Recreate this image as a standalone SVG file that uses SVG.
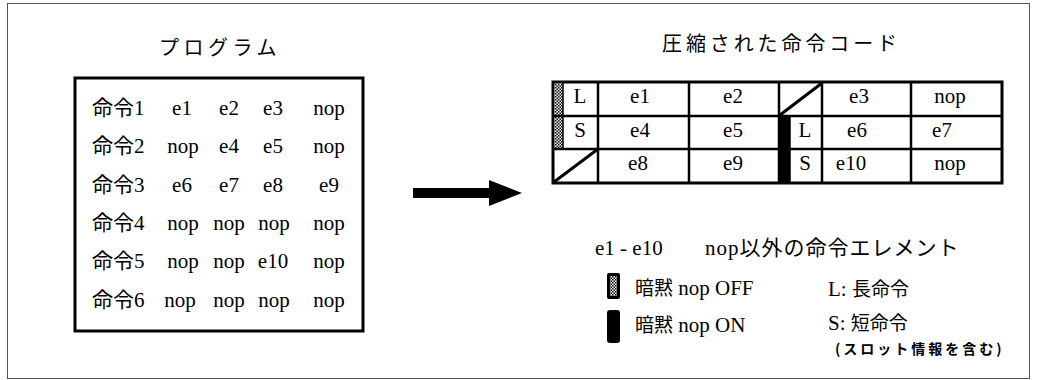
<svg xmlns="http://www.w3.org/2000/svg" width="1039" height="380" viewBox="0 0 1039 380">
<style>
.t{font-family:"Liberation Serif","Noto Sans CJK JP",serif;font-size:21px;fill:#000}
.j{font-family:"Noto Sans CJK JP",sans-serif;fill:#000}
.m{text-anchor:middle}
.ln{stroke:#000;stroke-width:2.5;fill:none}
</style>
<defs>
<pattern id="dots" width="3" height="3" patternUnits="userSpaceOnUse">
<rect width="3" height="3" fill="#fff"/>
<rect width="1.5" height="1.5" fill="#000"/>
<rect x="1.5" y="1.5" width="1.5" height="1.5" fill="#000"/>
</pattern>
</defs>
<rect width="1039" height="380" fill="#fff"/>
<rect x="7.5" y="3.5" width="1022" height="375" fill="none" stroke="#555" stroke-width="1"/>

<g id="program">
<text class="j" x="159" y="55" font-size="20" letter-spacing="4.5">プログラム</text>
<rect x="75" y="78" width="288" height="253" fill="none" stroke="#000" stroke-width="3"/>
<g class="t">
<text x="92" y="115">命令1</text>
<text x="182" y="115" class="m">e1</text><text x="229" y="115" class="m">e2</text><text x="273" y="115" class="m">e3</text><text x="329" y="115" class="m">nop</text>
<text x="92" y="153">命令2</text>
<text x="183" y="153" class="m">nop</text><text x="229" y="153" class="m">e4</text><text x="273" y="153" class="m">e5</text><text x="329" y="153" class="m">nop</text>
<text x="92" y="192">命令3</text>
<text x="182" y="192" class="m">e6</text><text x="229" y="192" class="m">e7</text><text x="273" y="192" class="m">e8</text><text x="329" y="192" class="m">e9</text>
<text x="92" y="230">命令4</text>
<text x="183" y="230" class="m">nop</text><text x="229" y="230" class="m">nop</text><text x="274" y="230" class="m">nop</text><text x="329" y="230" class="m">nop</text>
<text x="92" y="268">命令5</text>
<text x="183" y="268" class="m">nop</text><text x="229" y="268" class="m">nop</text><text x="273" y="268" class="m">e10</text><text x="329" y="268" class="m">nop</text>
<text x="92" y="307">命令6</text>
<text x="180" y="307" class="m">nop</text><text x="229" y="307" class="m">nop</text><text x="274" y="307" class="m">nop</text><text x="329" y="307" class="m">nop</text>
</g>
</g>

<g id="connectors">
<path d="M413 188 H489 V180 L522 193 L489 206 V198 H413 Z" fill="#000"/>
</g>

<g id="compressed">
<text class="j" x="662" y="51" font-size="20" letter-spacing="3.9">圧縮された命令コード</text>
<rect x="555" y="84" width="8" height="64" fill="url(#dots)"/>
<rect x="779" y="116" width="11" height="67" fill="#000"/>
<g class="ln">
<line x1="553" y1="116" x2="1002" y2="116"/>
<line x1="553" y1="149" x2="1002" y2="149"/>
<line x1="563" y1="82" x2="563" y2="149" stroke-width="1.5"/>
<line x1="598" y1="82" x2="598" y2="183"/>
<line x1="689" y1="82" x2="689" y2="183"/>
<line x1="779" y1="82" x2="779" y2="183"/>
<line x1="790" y1="116" x2="790" y2="183" stroke-width="1.5"/>
<line x1="822" y1="82" x2="822" y2="183"/>
<line x1="911" y1="82" x2="911" y2="183"/>
<line x1="780" y1="115" x2="822" y2="83" stroke-width="3"/>
<line x1="554" y1="182" x2="598" y2="149" stroke-width="3"/>
</g>
<rect x="553" y="82" width="449" height="101" fill="none" stroke="#000" stroke-width="3"/>
<g class="t">
<text x="580" y="103" class="m">L</text><text x="640" y="103" class="m">e1</text><text x="733" y="103" class="m">e2</text><text x="859" y="103" class="m">e3</text><text x="950" y="103" class="m">nop</text>
<text x="580" y="137" class="m">S</text><text x="640" y="137" class="m">e4</text><text x="733" y="137" class="m">e5</text><text x="805" y="137" class="m">L</text><text x="857" y="137" class="m">e6</text><text x="942" y="137" class="m">e7</text>
<text x="638" y="170" class="m">e8</text><text x="733" y="170" class="m">e9</text><text x="805" y="170" class="m">S</text><text x="851" y="170" class="m">e10</text><text x="950" y="170" class="m">nop</text>
</g>
</g>

<g id="legend-elements">
<text class="t" x="595" y="255" font-size="20">e1 - e10</text>
<text class="t" x="705" y="255" font-size="20" letter-spacing="1">nop<tspan class="j">以外の命令エレメント</tspan></text>
</g>
<g id="legend-off">
<rect x="607" y="273" width="13" height="26" rx="2" fill="#000"/>
<rect x="610" y="276" width="7" height="20" fill="url(#dots)"/>
<text class="t" x="635" y="295" font-size="22"><tspan class="j" font-size="19">暗黙</tspan> nop OFF</text>
</g>
<g id="legend-on">
<rect x="607" y="310" width="13" height="33" rx="3" fill="#000"/>
<text class="t" x="635" y="332" font-size="22"><tspan class="j" font-size="19">暗黙</tspan> nop ON</text>
</g>
<g id="legend-long">
<text class="t" x="828" y="296" font-size="22">L: <tspan class="j" font-size="19">長命令</tspan></text>
</g>
<g id="legend-short">
<text class="t" x="828" y="330" font-size="22">S: <tspan class="j" font-size="19">短命令</tspan></text>
<text class="j" x="835" y="354" font-size="14" font-weight="bold" letter-spacing="3">(スロット情報を含む)</text>
</g>
</svg>
